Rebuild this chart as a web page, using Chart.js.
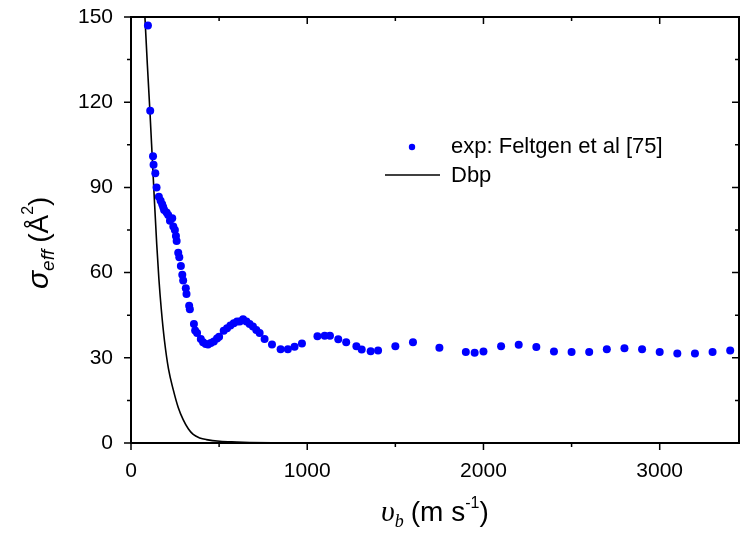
<!DOCTYPE html>
<html><head><meta charset="utf-8">
<script src="https://cdn.jsdelivr.net/npm/chart.js@4/dist/chart.umd.min.js"></script>
<style>html,body{margin:0;padding:0;background:#fff;}canvas{display:block;}</style>
</head><body>
<canvas id="c" width="743" height="534"></canvas>
<script>
// Experimental points: Feltgen et al [75]
const expX = [96,109,125,128,138,145,158,168,177,183,188,202,211,221,234,240,249,255,259,268,274,283,291,296,311,315,330,334,357,364,375,396,409,424,437,453,470,488,500,526,545,564,583,602,617,636,655,673,692,711,730,758,800,849,890,928,970,1058,1099,1129,1176,1221,1279,1309,1360,1402,1500,1600,1750,1900,1950,2000,2100,2200,2300,2400,2500,2600,2700,2800,2900,3000,3100,3200,3300,3400];
const expY = [147,117,101,98,95,90,86.7,85.3,84.1,83,82,81.2,80.3,78.3,79.1,76.2,75,72.9,71.1,67,65.4,62.3,59.2,57.2,54.5,52.5,48.3,47.1,41.9,39.6,38.7,36.6,35.5,34.9,34.7,35.2,35.7,36.8,37.4,39.5,40.4,41.4,42.2,42.8,42.8,43.6,42.8,41.9,41,39.8,38.7,36.6,34.7,33,33,33.9,35,37.6,37.8,37.8,36.5,35.5,34.1,32.9,32.3,32.6,34.1,35.5,33.5,32,31.8,32.2,34.1,34.6,33.8,32.2,32,32,33,33.4,33,32,31.5,31.5,32,32.6];
// Dbp curve
const dbpX = [66,79,93,108,121,134,146,158,172,190,213,240,268,296,325,353,390,428,504,600,673,800,1000,1500,3450];
const dbpY = [166,150,133,116,100,84,70,58,47,36,26,18.7,12.5,8.2,5,3,1.8,1.2,0.6,0.35,0.2,0.08,0.03,0,0];
// Axis ticks
const xTicks = [0,1000,2000,3000];
const xMinor = [500,1500,2500];
const yTicks = [0,30,60,90,120,150];
const yMinor = [15,45,75,105,135];
const legendLabels = ["exp: Feltgen et al [75]", "Dbp"];

const expData = expX.map((x,i)=>({x:x,y:expY[i]}));
const dbpData = dbpX.map((x,i)=>({x:x,y:dbpY[i]}));

const FONT = '"Liberation Sans", Arial, sans-serif';
const SERIF = '"Liberation Serif", "DejaVu Serif", serif';

const framePlugin = {
  id:'frame',
  afterDraw(chart){
    const ctx = chart.ctx, a = chart.chartArea;
    const xs = chart.scales.x, ys = chart.scales.y;
    ctx.save();
    ctx.strokeStyle = '#000';
    ctx.lineWidth = 2;
    ctx.strokeRect(a.left, a.top, a.right - a.left, a.bottom - a.top);
    ctx.lineWidth = 1.5;
    const major = 7, minor = 4;
    ctx.beginPath();
    xTicks.forEach(v=>{const p = xs.getPixelForValue(v);
      ctx.moveTo(p, a.bottom); ctx.lineTo(p, a.bottom + major);
      ctx.moveTo(p, a.top); ctx.lineTo(p, a.top + major);});
    xMinor.forEach(v=>{const p = xs.getPixelForValue(v);
      ctx.moveTo(p, a.bottom); ctx.lineTo(p, a.bottom + minor);
      ctx.moveTo(p, a.top); ctx.lineTo(p, a.top + minor);});
    yTicks.forEach(v=>{const p = ys.getPixelForValue(v);
      ctx.moveTo(a.left, p); ctx.lineTo(a.left - major, p);
      ctx.moveTo(a.right, p); ctx.lineTo(a.right - major, p);});
    yMinor.forEach(v=>{const p = ys.getPixelForValue(v);
      ctx.moveTo(a.left, p); ctx.lineTo(a.left - minor, p);
      ctx.moveTo(a.right, p); ctx.lineTo(a.right - minor, p);});
    ctx.stroke();

    // Legend
    ctx.fillStyle = '#0000ff';
    ctx.beginPath(); ctx.arc(412, 147, 3.2, 0, Math.PI*2); ctx.fill();
    ctx.strokeStyle = '#000'; ctx.lineWidth = 1.5;
    ctx.beginPath(); ctx.moveTo(385, 175); ctx.lineTo(440, 175); ctx.stroke();
    ctx.fillStyle = '#000';
    ctx.font = '22px ' + FONT;
    ctx.textBaseline = 'middle'; ctx.textAlign = 'left';
    ctx.fillText(legendLabels[0], 451, 147);
    ctx.fillText(legendLabels[1], 451, 176);

    // X title: υ_b (m s^-1)
    ctx.textBaseline = 'alphabetic';
    let x = 381, y = 521;
    ctx.font = 'italic 30px ' + SERIF;
    ctx.fillText('υ', x, y); x += ctx.measureText('υ').width;
    ctx.font = 'italic 18px ' + SERIF;
    ctx.fillText('b', x, y + 6); x += ctx.measureText('b').width + 7;
    ctx.font = '28px ' + FONT;
    ctx.fillText('(m s', x, y); x += ctx.measureText('(m s').width;
    ctx.font = '16px ' + FONT;
    ctx.fillText('-1', x, y - 13); x += ctx.measureText('-1').width;
    ctx.font = '28px ' + FONT;
    ctx.fillText(')', x, y);

    // Y title: σ_eff (Å^2)
    ctx.save();
    ctx.translate(48, 289);
    ctx.rotate(-Math.PI/2);
    x = 0; y = 0;
    ctx.font = 'italic 30px ' + FONT;
    ctx.fillText('σ', x, y); x += ctx.measureText('σ').width;
    ctx.font = 'italic 19px ' + FONT;
    ctx.fillText('eff', x, y + 6); x += ctx.measureText('eff').width + 7;
    ctx.font = '28px ' + FONT;
    ctx.fillText('(Å', x, y); x += ctx.measureText('(Å').width;
    ctx.font = '16px ' + FONT;
    ctx.fillText('2', x, y - 15); x += ctx.measureText('2').width;
    ctx.font = '28px ' + FONT;
    ctx.fillText(')', x, y);
    ctx.restore();
    ctx.restore();
  }
};

new Chart(document.getElementById('c'), {
  type:'scatter',
  data:{datasets:[
    {label:legendLabels[0], data:expData, showLine:false, pointRadius:4, pointHoverRadius:4,
     pointBackgroundColor:'#0000ff', pointBorderColor:'#0000ff', pointBorderWidth:0, order:1},
    {label:legendLabels[1], data:dbpData, showLine:true, pointRadius:0, borderColor:'#000',
     borderWidth:1.6, cubicInterpolationMode:'monotone', fill:false, order:2}
  ]},
  options:{
    responsive:false, animation:false, devicePixelRatio:1,
    layout:{padding:{top:17, right:3, left:0, bottom:0}},
    plugins:{legend:{display:false}, tooltip:{enabled:false}},
    scales:{
      x:{type:'linear', min:0, max:3450,
        afterBuildTicks(s){ s.ticks = xTicks.map(v=>({value:v})); },
        afterFit(s){ s.height = 91; s.paddingLeft = 0; s.paddingRight = 0; s.paddingTop = 0; s.paddingBottom = 0; },
        grid:{display:false, drawTicks:false}, border:{display:false},
        ticks:{font:{size:21, family:FONT}, color:'#000', padding:16, maxRotation:0,
          callback:(v)=>String(v)}},
      y:{type:'linear', min:0, max:150,
        afterBuildTicks(s){ s.ticks = yTicks.map(v=>({value:v})); },
        afterFit(s){ s.width = 131; s.paddingTop = 0; s.paddingBottom = 0; s.paddingLeft = 0; s.paddingRight = 0; },
        grid:{display:false, drawTicks:false}, border:{display:false},
        ticks:{font:{size:21, family:FONT}, color:'#000', padding:18, callback:(v)=>String(v)}}
    }
  },
  plugins:[framePlugin]
});
</script>
</body></html>
